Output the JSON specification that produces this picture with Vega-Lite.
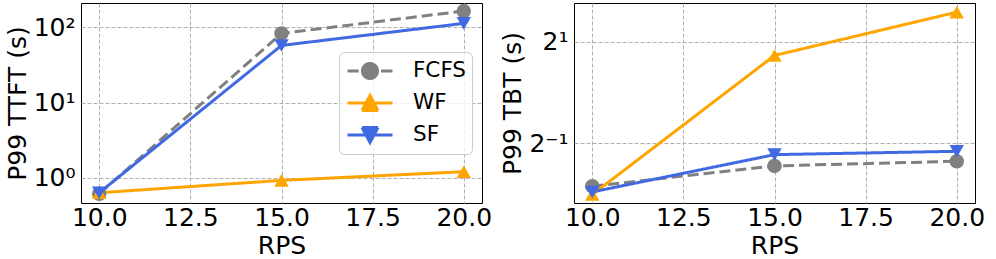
{
  "$schema": "https://vega.github.io/schema/vega-lite/v6.json",
  "padding": {"left": 4, "top": 2, "right": 0, "bottom": 0},
  "spacing": 7,
  "datasets": {
    "ttft": [
      {"series": "FCFS", "rps": 10, "value": 0.61},
      {"series": "FCFS", "rps": 15, "value": 83},
      {"series": "FCFS", "rps": 20, "value": 165},
      {"series": "WF", "rps": 10, "value": 0.63},
      {"series": "WF", "rps": 15, "value": 0.92},
      {"series": "WF", "rps": 20, "value": 1.2},
      {"series": "SF", "rps": 10, "value": 0.63},
      {"series": "SF", "rps": 15, "value": 57.5},
      {"series": "SF", "rps": 20, "value": 113}
    ],
    "tbt": [
      {"series": "FCFS", "rps": 10, "value": 0.278},
      {"series": "FCFS", "rps": 15, "value": 0.367},
      {"series": "FCFS", "rps": 20, "value": 0.391},
      {"series": "WF", "rps": 10, "value": 0.248},
      {"series": "WF", "rps": 15, "value": 1.66},
      {"series": "WF", "rps": 20, "value": 3.0},
      {"series": "SF", "rps": 10, "value": 0.257},
      {"series": "SF", "rps": 15, "value": 0.428},
      {"series": "SF", "rps": 20, "value": 0.448}
    ]
  },
  "resolve": {
    "scale": {"x": "independent", "y": "independent", "color": "independent"},
    "legend": {"color": "independent"}
  },
  "hconcat": [
    {
      "width": 401,
      "height": 200,
      "data": {"name": "ttft"},
      "layer": [
        {
          "mark": {"type": "line", "strokeWidth": 3},
          "encoding": {
            "x": {"field": "rps", "type": "quantitative", "scale": {"domain": [9.5, 20.5], "nice": false, "zero": false}, "axis": {"values": [10, 12.5, 15, 17.5, 20], "format": ".1f", "title": "RPS"}},
            "y": {"field": "value", "type": "quantitative", "scale": {"type": "log", "domain": [0.46, 211], "nice": false}, "axis": {"values": [1, 10, 100], "labelExpr": "datum.value === 100 ? '10²' : datum.value === 10 ? '10¹' : '10⁰'", "title": "P99 TTFT (s)"}},
            "color": {
              "field": "series", "type": "nominal",
              "scale": {"domain": ["FCFS", "WF", "SF"], "range": ["#808080", "#FFA500", "#4169E1"]},
              "legend": {
                "title": null,
                "orient": "none",
                "legendX": 258,
                "legendY": 49,
                "symbolSize": 625,
                "symbolStrokeWidth": 3,
                "symbolOffset": 12,
                "labelFontSize": 21.5,
                "labelFont": "DejaVu Sans",
                "labelColor": "black",
                "strokeColor": "#cccccc",
                "fillColor": "rgba(255,255,255,0.8)",
                "cornerRadius": 5,
                "padding": 5,
                "rowPadding": 4,
                "labelOffset": 29,
                "encode": {
                  "symbols": {
                    "update": {
                      "shape": {"signal": "datum.value === 'FCFS' ? 'M-1.8,0H-0.9M0.88,0H1.8M0.6,0A0.6,0.6 0 1,1 -0.6,0A0.6,0.6 0 1,1 0.6,0Z' : datum.value === 'WF' ? 'M-1.8,0H1.8M0,-0.6L0.64,0.6L-0.64,0.6Z' : 'M-1.8,0H1.8M0,0.6L0.64,-0.6L-0.64,-0.6Z'"},
                      "fill": {"signal": "datum.value === 'FCFS' ? '#808080' : datum.value === 'WF' ? '#FFA500' : '#4169E1'"},
                      "stroke": {"signal": "datum.value === 'FCFS' ? '#808080' : datum.value === 'WF' ? '#FFA500' : '#4169E1'"},
                      "strokeWidth": {"value": 3},
                      "strokeDash": {"value": [1, 0]},
                      "opacity": {"value": 1}
                    }
                  }
                }
              }
            },
            "strokeDash": {"condition": {"test": "datum.series === 'FCFS'", "value": [11, 5]}, "value": [1, 0]}
          }
        },
        {
          "mark": {"type": "point", "filled": true, "size": 210, "opacity": 1, "strokeWidth": 1},
          "encoding": {
            "x": {"field": "rps", "type": "quantitative"},
            "y": {"field": "value", "type": "quantitative"},
            "color": {
              "field": "series", "type": "nominal",
              "scale": {"domain": ["FCFS", "WF", "SF"], "range": ["#808080", "#FFA500", "#4169E1"]},
              "legend": {
                "title": null,
                "orient": "none",
                "legendX": 258,
                "legendY": 49,
                "symbolSize": 625,
                "symbolStrokeWidth": 3,
                "symbolOffset": 12,
                "labelFontSize": 21.5,
                "labelFont": "DejaVu Sans",
                "labelColor": "black",
                "strokeColor": "#cccccc",
                "fillColor": "rgba(255,255,255,0.8)",
                "cornerRadius": 5,
                "padding": 5,
                "rowPadding": 4,
                "labelOffset": 29,
                "encode": {
                  "symbols": {
                    "update": {
                      "shape": {"signal": "datum.value === 'FCFS' ? 'M-1.8,0H-0.9M0.88,0H1.8M0.6,0A0.6,0.6 0 1,1 -0.6,0A0.6,0.6 0 1,1 0.6,0Z' : datum.value === 'WF' ? 'M-1.8,0H1.8M0,-0.6L0.64,0.6L-0.64,0.6Z' : 'M-1.8,0H1.8M0,0.6L0.64,-0.6L-0.64,-0.6Z'"},
                      "fill": {"signal": "datum.value === 'FCFS' ? '#808080' : datum.value === 'WF' ? '#FFA500' : '#4169E1'"},
                      "stroke": {"signal": "datum.value === 'FCFS' ? '#808080' : datum.value === 'WF' ? '#FFA500' : '#4169E1'"},
                      "strokeWidth": {"value": 3},
                      "strokeDash": {"value": [1, 0]},
                      "opacity": {"value": 1}
                    }
                  }
                }
              }
            },
            "shape": {"condition": [{"test": "datum.series === 'WF'", "value": "triangle-up"}, {"test": "datum.series === 'SF'", "value": "triangle-down"}], "value": "circle"}
          }
        }
      ]
    },
    {
      "width": 401,
      "height": 200,
      "data": {"name": "tbt"},
      "layer": [
        {
          "mark": {"type": "line", "strokeWidth": 3},
          "encoding": {
            "x": {"field": "rps", "type": "quantitative", "scale": {"domain": [9.5, 20.5], "nice": false, "zero": false}, "axis": {"values": [10, 12.5, 15, 17.5, 20], "format": ".1f", "title": "RPS"}},
            "y": {"field": "value", "type": "quantitative", "scale": {"type": "log", "base": 2, "domain": [0.221, 3.4], "nice": false}, "axis": {"values": [0.5, 2], "labelExpr": "datum.value === 2 ? '2¹' : '2⁻¹'", "title": "P99 TBT (s)"}},
            "color": {"field": "series", "type": "nominal", "scale": {"domain": ["FCFS", "WF", "SF"], "range": ["#808080", "#FFA500", "#4169E1"]}, "legend": null},
            "strokeDash": {"condition": {"test": "datum.series === 'FCFS'", "value": [11, 5]}, "value": [1, 0]}
          }
        },
        {
          "mark": {"type": "point", "filled": true, "size": 210, "opacity": 1, "strokeWidth": 1},
          "encoding": {
            "x": {"field": "rps", "type": "quantitative"},
            "y": {"field": "value", "type": "quantitative"},
            "color": {"field": "series", "type": "nominal", "scale": {"domain": ["FCFS", "WF", "SF"], "range": ["#808080", "#FFA500", "#4169E1"]}, "legend": null},
            "shape": {"condition": [{"test": "datum.series === 'WF'", "value": "triangle-up"}, {"test": "datum.series === 'SF'", "value": "triangle-down"}], "value": "circle"}
          }
        }
      ]
    }
  ],
  "config": {
    "font": "DejaVu Sans",
    "view": {"stroke": "black", "strokeWidth": 1},
    "axis": {
      "grid": true,
      "gridDash": [4, 2],
      "gridColor": "#b0b0b0",
      "gridWidth": 1,
      "ticks": false,
      "domain": false,
      "labelFont": "DejaVu Sans",
      "labelFontSize": 25,
      "labelColor": "black",
      "titleFont": "DejaVu Sans",
      "titleFontSize": 25,
      "titleFontWeight": "normal",
      "titleColor": "black"
    },
    "axisX": {"labelPadding": 2, "titlePadding": 3},
    "axisY": {"labelPadding": 6, "titlePadding": 3}
  }
}
